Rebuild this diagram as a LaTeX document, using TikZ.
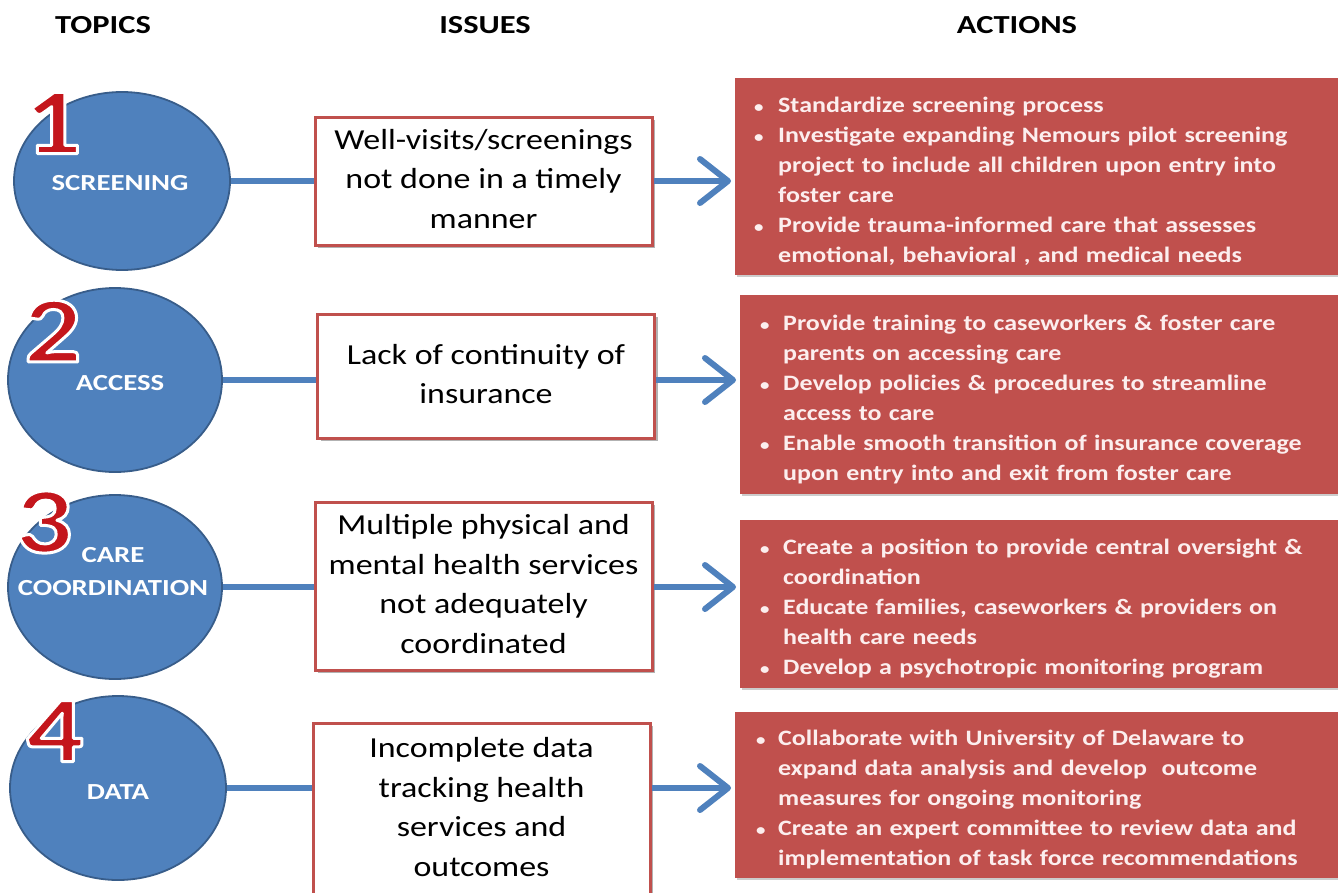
\documentclass[tikz,border=0pt]{standalone}
\usepackage{fontspec}
\setmainfont{Carlito}
\newfontfamily\hdrfont{Carlito}[FakeStretch=1.25]
\newfontfamily\topicfont{Carlito}[FakeStretch=1.25]
\newfontfamily\issuefont{Carlito}[FakeStretch=1.17]
\newfontfamily\actfont{Carlito}[FakeStretch=1.18]
\newfontfamily\numfont{Carlito}[FakeStretch=1.2]
\usetikzlibrary{arrows.meta,shadows,shapes.geometric}
\definecolor{topicblue}{HTML}{4F81BD}
\definecolor{topicedge}{HTML}{385D8A}
\definecolor{issuered}{HTML}{C0504D}
\definecolor{actred}{HTML}{C0504D}
\definecolor{acttext}{HTML}{FCEEEE}
\definecolor{numred}{HTML}{C4161C}
\newlength\bw
\newcommand\bi[1]{\par\hangindent=\bw\hangafter=1\noindent\strut\makebox[\bw][l]{{\fontsize{16}{16}\selectfont\textbullet}}#1\strut}
\newcommand\bignum[1]{{\color{numred}\special{pdf:literal 2 Tr 3 w 1 j 1 1 1 RG}#1\special{pdf:literal 0 Tr 0.4 w 0 j}}}
\begin{document}
\begin{tikzpicture}[x=1pt,y=-1pt,
 hdr/.style={font=\hdrfont\bfseries\fontsize{26}{30}\selectfont, inner sep=0pt},
 topic/.style={ellipse, draw=topicedge, line width=1.8pt, fill=topicblue, inner sep=0pt, minimum width=214pt, minimum height=184pt},
 topiclbl/.style={text=white, font=\topicfont\bfseries\fontsize{23}{33}\selectfont, align=center, inner sep=0pt},
 num/.style={font=\numfont\bfseries\fontsize{94}{94}\selectfont, inner sep=0pt},
 issue/.style={draw=issuered, line width=3pt, fill=white, minimum width=337pt, inner sep=0pt, align=center, font=\issuefont\fontsize{29}{39.5}\selectfont, drop shadow={shadow xshift=3pt, shadow yshift=-3pt, opacity=0.3, fill=black}},
 action/.style={fill=actred, anchor=north west, inner ysep=0pt, text=acttext, align=left, font=\actfont\bfseries\fontsize{22}{30}\selectfont, drop shadow={shadow xshift=2pt, shadow yshift=-2pt, opacity=0.2, fill=black}},
 link/.style={draw=topicblue, line width=6pt},
 arr/.style={draw=topicblue, line width=6pt, -{Straight Barb[length=28pt,width=44pt,line cap=round,line join=round]}, shorten >=4pt}
]
\useasboundingbox (0,0) rectangle (1338,892);
\clip (0,0) rectangle (1338,892);
\fill[white] (0,0) rectangle (1338,892);

% headers
\node[hdr] (h1) at (103,25) {TOPICS};
\node[hdr] (h2) at (485,25) {ISSUES};
\node[hdr] (h3) at (1017,25) {ACTIONS};

% topic ellipses
\node[topic, minimum width=216pt, minimum height=178pt] (E1) at (122,181) {};
\node[topic] (E2) at (115,380) {};
\node[topic] (E3) at (115,587) {};
\node[topic, minimum width=216pt] (E4) at (118,788) {};

\node[topiclbl] (L1) at (120,183) {SCREENING};
\node[topiclbl] (L2) at (120,383) {ACCESS};
\node[topiclbl] (L3) at (113,571.5) {CARE\\COORDINATION};
\node[topiclbl] (L4) at (118,792) {DATA};

\node[num] (N1) at (53,123) {\bignum{1}};
\node[num] (N2) at (53,331) {\bignum{2}};
\node[num] (N3) at (44,522) {\bignum{3}};
\node[num] (N4) at (55,731) {\bignum{4}};

% issue boxes
\node[issue, minimum height=128pt] (B1) at (483.5,181) {\strut Well-visits/screenings\\not done in a timely\\manner\strut};
\node[issue, minimum height=124pt] (B2) at (486,376) {\strut Lack of continuity of\\insurance\strut};
\node[issue, minimum height=168pt] (B3) at (483.5,586) {\strut Multiple physical and\\mental health services\\not adequately\\coordinated\strut};
\node[issue, minimum height=172pt] (B4) at (481.5,809) {\strut Incomplete data\\tracking health\\services and\\outcomes\strut};

% action boxes
\node[action, minimum width=610pt, minimum height=197pt, inner xsep=19pt, text width=572pt] (A1) at (735,78) {\setlength\bw{24pt}%
\bi{Standardize screening process}%
\bi{Investigate expanding Nemours pilot screening\newline project to include all children upon entry into\newline foster care}%
\bi{Provide trauma-informed care that assesses\newline emotional, behavioral , and medical needs}\par};
\node[action, minimum width=605pt, minimum height=199pt, inner xsep=20pt, text width=565pt] (A2) at (740,295) {\setlength\bw{23pt}%
\bi{Provide training to caseworkers \& foster care\newline parents on accessing care}%
\bi{Develop policies \& procedures to streamline\newline access to care}%
\bi{Enable smooth transition of insurance coverage\newline upon entry into and exit from foster care}\par};
\node[action, minimum width=605pt, minimum height=168pt, inner xsep=20pt, text width=565pt] (A3) at (740,520) {\setlength\bw{23pt}%
\bi{Create a position to provide central oversight \&\newline coordination}%
\bi{Educate families, caseworkers \& providers on\newline health care needs}%
\bi{Develop a psychotropic monitoring program}\par};
\node[action, minimum width=610pt, minimum height=166pt, inner xsep=21pt, text width=568pt] (A4) at (735,712) {\setlength\bw{22pt}%
\bi{Collaborate with University of Delaware to\newline expand data analysis and develop\ \ outcome\newline measures for ongoing monitoring}%
\bi{Create an expert committee to review data and\newline implementation of task force recommendations}\par};

% connectors
\draw[link] (E1.east) -- (E1.east -| B1.west);
\draw[link] (E2.east) -- (E2.east -| B2.west);
\draw[link] (E3.east) -- (E3.east -| B3.west);
\draw[link] (E4.east) -- (E4.east -| B4.west);
\draw[arr] (E1 -| B1.east) -- (E1 -| A1.west);
\draw[arr] (E2 -| B2.east) -- (E2 -| A2.west);
\draw[arr] (E3 -| B3.east) -- (E3 -| A3.west);
\draw[arr] (E4 -| B4.east) -- (E4 -| A4.west);
\end{tikzpicture}
\end{document}
